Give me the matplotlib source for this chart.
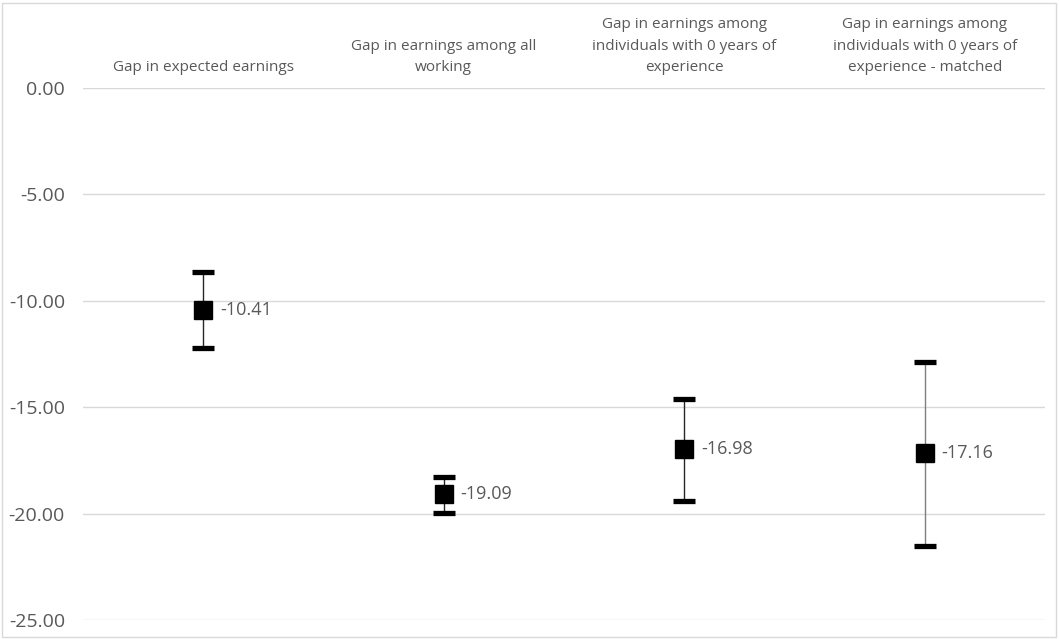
import matplotlib
matplotlib.use("Agg")
import matplotlib.pyplot as plt
from matplotlib.patches import Rectangle
from matplotlib.ticker import FormatStrFormatter

categories = [
    "Gap in expected earnings",
    "Gap in earnings among all\nworking",
    "Gap in earnings among\nindividuals with 0 years of\nexperience",
    "Gap in earnings among\nindividuals with 0 years of\nexperience - matched",
]
gaps = [-10.41, -19.09, -16.98, -17.16]
ci_upper = [-8.66, -18.28, -14.61, -12.88]
ci_lower = [-12.20, -19.97, -19.41, -21.52]
bar_colors = ["#262626", "#262626", "#262626", "#7f7f7f"]

grey = "#595959"

fig = plt.figure(figsize=(10.59, 6.39), dpi=100)
ax = fig.add_axes([0.0784, 0.0297, 0.9084, 0.8326])

# light border round the whole chart, like the office chart area
fig.patches.append(Rectangle((0.002, 0.003), 0.995, 0.992, transform=fig.transFigure,
                             fill=False, edgecolor="#d9d9d9", linewidth=1.0))

xs = list(range(len(categories)))
for i in xs:
    lo = gaps[i] - ci_lower[i]
    hi = ci_upper[i] - gaps[i]
    # whisker in its own colour, caps always black
    ax.errorbar([i], [gaps[i]], yerr=[[lo], [hi]], fmt="none", ecolor=bar_colors[i],
                elinewidth=1.0, capsize=0, zorder=3)
    ax.errorbar([i], [gaps[i]], yerr=[[lo], [hi]], fmt="none", ecolor="black",
                elinewidth=0, capsize=8, capthick=3.8, zorder=3)
    ax.plot(i, gaps[i], marker="s", markersize=12.5, color="black", zorder=4)
    ax.annotate(f"{gaps[i]:.2f}", (i, gaps[i]), xytext=(12, 0), textcoords="offset points",
                va="center", ha="left", fontsize=13, color=grey, family="Open Sans")

ax.set_xlim(-0.5, 3.5)
ax.set_ylim(-25, 0)
ax.set_yticks([0, -5, -10, -15, -20, -25])
ax.yaxis.set_major_formatter(FormatStrFormatter("%.2f"))
ax.grid(axis="y", color="#d9d9d9", linewidth=1.0)
ax.set_axisbelow(True)

ax.xaxis.tick_top()
ax.set_xticks(xs)
ax.set_xticklabels(categories, fontsize=11, color=grey, family="Open Sans", linespacing=1.6)
ax.tick_params(axis="x", length=0, pad=9)
ax.tick_params(axis="y", length=0, pad=13, labelsize=14, labelcolor=grey)
for lab in ax.get_yticklabels():
    lab.set_family("Open Sans")

for s in ax.spines.values():
    s.set_visible(False)

fig.savefig("out.png", dpi=100)
